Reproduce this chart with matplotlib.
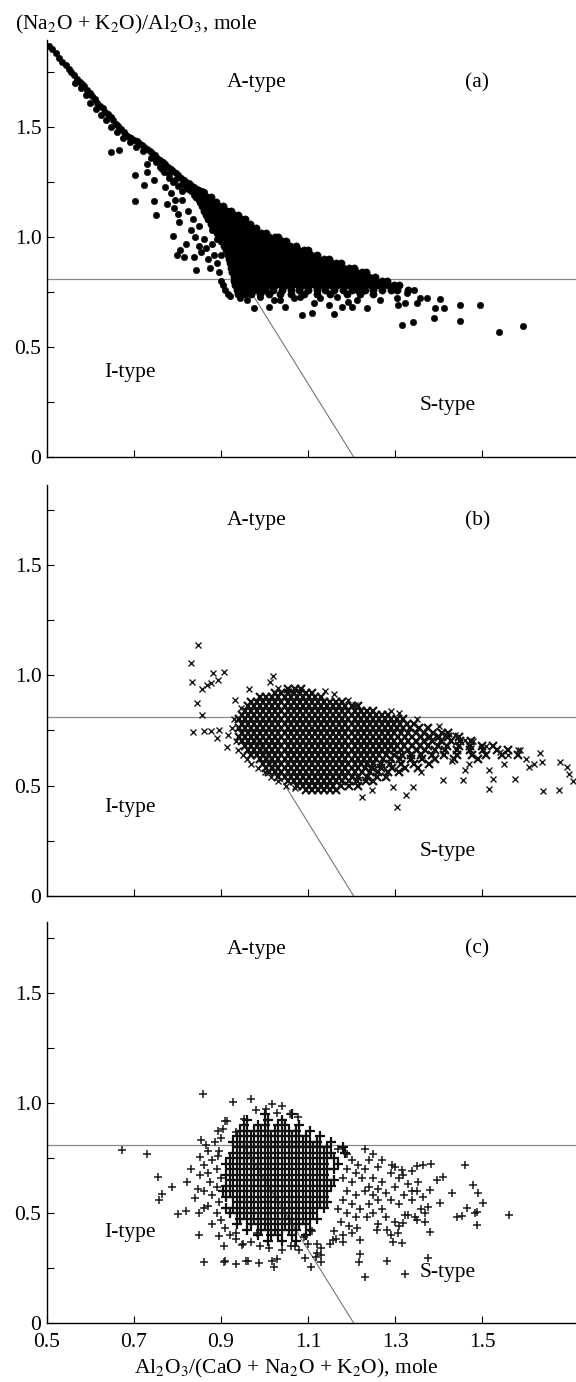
import numpy as np
import matplotlib
matplotlib.use("Agg")
from matplotlib import pyplot as plt

plt.rcParams['font.family'] = ['Liberation Serif', 'DejaVu Serif']
plt.rcParams['mathtext.fontset'] = 'stix'

# boundaries between the fields
level_y = 0.81
diag_x = [0.95, 1.205]
diag_y = [0.81, 0.0]

x_ticks = [0.5, 0.7, 0.9, 1.1, 1.3, 1.5]
y_ticks = [0, 0.25, 0.5, 0.75, 1.0, 1.25, 1.5, 1.75]
y_labels = ['0', '', '0.5', '', '1.0', '', '1.5', '']

# ---------------- panel (a), filled dots ----------------
a_band = [(0.505, 1.87), (0.512, 1.855), (0.52, 1.835), (0.528, 1.815), (0.535, 1.795), (0.543, 1.78),
          (0.55, 1.765), (0.556, 1.75), (0.563, 1.735), (0.57, 1.72), (0.575, 1.705), (0.565, 1.70),
          (0.58, 1.695), (0.586, 1.685), (0.578, 1.675), (0.592, 1.67), (0.598, 1.655), (0.59, 1.645),
          (0.604, 1.64), (0.61, 1.625), (0.6, 1.61), (0.616, 1.61), (0.622, 1.595), (0.612, 1.58),
          (0.628, 1.585), (0.634, 1.57), (0.625, 1.555), (0.64, 1.56), (0.646, 1.545), (0.636, 1.53),
          (0.652, 1.53), (0.658, 1.515), (0.647, 1.50), (0.664, 1.505), (0.67, 1.49), (0.66, 1.475),
          (0.676, 1.475), (0.682, 1.465), (0.688, 1.455), (0.675, 1.45), (0.694, 1.45), (0.7, 1.44),
          (0.69, 1.43), (0.706, 1.435), (0.712, 1.425), (0.718, 1.42), (0.705, 1.41), (0.724, 1.41),
          (0.73, 1.40), (0.72, 1.39), (0.736, 1.39), (0.742, 1.38), (0.748, 1.372), (0.738, 1.36),
          (0.754, 1.36), (0.76, 1.35), (0.75, 1.34), (0.766, 1.34), (0.772, 1.33), (0.778, 1.32),
          (0.765, 1.31), (0.784, 1.31), (0.79, 1.30), (0.78, 1.285), (0.796, 1.29), (0.802, 1.28),
          (0.808, 1.27), (0.795, 1.26), (0.814, 1.26), (0.82, 1.25), (0.81, 1.24), (0.826, 1.245),
          (0.832, 1.235), (0.838, 1.228), (0.825, 1.22), (0.844, 1.22), (0.85, 1.215), (0.856, 1.21),
          (0.84, 1.20), (0.86, 1.205)]

a_core_y = [1.20, 1.18, 1.16, 1.14, 1.12, 1.10, 1.08, 1.06, 1.04, 1.02, 1.00, 0.98,
            0.96, 0.94, 0.92, 0.90, 0.88, 0.86, 0.84, 0.82, 0.80, 0.78, 0.76, 0.74]
a_core_x = [
    [0.847, 0.859],
    [0.842, 0.855, 0.868, 0.878],
    [0.851, 0.863, 0.876, 0.889],
    [0.857, 0.869, 0.882, 0.894, 0.904],
    [0.862, 0.875, 0.888, 0.90, 0.913, 0.923],
    [0.866, 0.879, 0.892, 0.905, 0.917, 0.929, 0.939],
    [0.871, 0.884, 0.897, 0.909, 0.922, 0.935, 0.947, 0.955],
    [0.877, 0.889, 0.903, 0.915, 0.928, 0.94, 0.953, 0.966],
    [0.882, 0.895, 0.908, 0.921, 0.933, 0.946, 0.959, 0.971, 0.98],
    [0.891, 0.903, 0.916, 0.929, 0.941, 0.954, 0.967, 0.979, 0.992, 1.004],
    [0.896, 0.909, 0.921, 0.934, 0.947, 0.96, 0.972, 0.985, 0.998, 1.01, 1.023, 1.03],
    [0.901, 0.914, 0.927, 0.939, 0.952, 0.965, 0.978, 0.99, 1.003, 1.016, 1.028, 1.041, 1.05],
    [0.906, 0.919, 0.932, 0.944, 0.957, 0.97, 0.983, 0.995, 1.008, 1.021, 1.034, 1.046, 1.059, 1.072],
    [0.911, 0.924, 0.937, 0.95, 0.962, 0.975, 0.988, 1.001, 1.013, 1.026, 1.039, 1.052, 1.064, 1.077,
     1.09, 1.099],
    [0.915, 0.928, 0.941, 0.954, 0.967, 0.979, 0.992, 1.005, 1.018, 1.03, 1.043, 1.056, 1.069, 1.081,
     1.094, 1.107, 1.12],
    [0.918, 0.931, 0.944, 0.957, 0.97, 0.982, 0.995, 1.008, 1.021, 1.034, 1.046, 1.059, 1.072, 1.085,
     1.097, 1.11, 1.123, 1.136, 1.149],
    [0.921, 0.934, 0.947, 0.96, 0.973, 0.986, 0.998, 1.011, 1.024, 1.037, 1.05, 1.062, 1.075, 1.088,
     1.101, 1.114, 1.126, 1.139, 1.152, 1.165, 1.177],
    [0.923, 0.936, 0.949, 0.962, 0.975, 0.988, 1.001, 1.014, 1.027, 1.039, 1.052, 1.065, 1.078, 1.091,
     1.104, 1.116, 1.129, 1.142, 1.155, 1.168, 1.181, 1.194, 1.206],
    [0.926, 0.939, 0.952, 0.965, 0.978, 0.991, 1.004, 1.017, 1.03, 1.043, 1.056, 1.068, 1.081, 1.094,
     1.107, 1.12, 1.133, 1.146, 1.159, 1.172, 1.185, 1.198, 1.211, 1.224, 1.233],
    [0.929, 0.942, 0.955, 0.968, 0.981, 0.994, 1.007, 1.02, 1.033, 1.046, 1.059, 1.072, 1.085, 1.098,
     1.11, 1.123, 1.136, 1.149, 1.162, 1.175, 1.188, 1.201, 1.214, 1.227, 1.24, 1.253],
    [0.931, 0.944, 0.957, 0.97, 0.983, 0.996, 1.009, 1.022, 1.035, 1.048, 1.061, 1.074, 1.087, 1.1,
     1.113, 1.126, 1.139, 1.152, 1.165, 1.178, 1.191, 1.204, 1.217, 1.23, 1.243, 1.256, 1.269, 1.281],
    [0.933, 0.946, 0.959, 0.972, 0.985, 0.998, 1.011, 1.024, 1.037, 1.05, 1.063, 1.076, 1.089, 1.102,
     1.115, 1.128, 1.141, 1.154, 1.167, 1.18, 1.193, 1.206, 1.219, 1.232, 1.245, 1.258, 1.271, 1.284,
     1.297, 1.31],
    [0.936, 0.949, 0.962, 0.975, 0.988, 1.001, 1.02, 1.04, 1.06, 1.08, 1.1, 1.12, 1.14, 1.16, 1.18,
     1.2, 1.215, 1.23, 1.25, 1.27, 1.29, 1.305, 1.33],
    [0.94, 0.955, 0.97, 0.99, 1.01, 1.035, 1.06, 1.09, 1.12, 1.15, 1.19, 1.22, 1.25],
]

a_scatter = [(0.646, 1.387), (0.665, 1.395), (0.703, 1.281), (0.73, 1.297), (0.722, 1.236),
             (0.745, 1.259), (0.703, 1.163), (0.747, 1.163), (0.751, 1.10), (0.768, 1.297),
             (0.772, 1.228), (0.73, 1.33), (0.76, 1.32), (0.78, 1.27), (0.79, 1.25), (0.8, 1.23),
             (0.81, 1.21), (0.785, 1.2), (0.795, 1.17), (0.775, 1.15),
             (0.79, 1.006), (0.793, 1.13), (0.8, 1.105), (0.803, 1.07), (0.799, 0.918), (0.814, 0.91),
             (0.805, 0.94), (0.837, 0.91), (0.843, 0.85), (0.82, 0.97), (0.83, 1.03), (0.81, 1.168),
             (0.825, 1.12), (0.835, 1.08), (0.84, 1.0), (0.85, 0.96), (0.855, 0.93), (0.85, 1.05),
             (0.86, 0.99), (0.865, 0.95), (0.87, 0.9), (0.875, 0.86), (0.88, 0.97), (0.885, 0.92),
             (0.89, 0.88), (0.895, 0.84), (0.9, 0.80), (0.905, 0.78), (0.91, 0.76), (0.915, 0.74),
             (0.92, 0.73), (0.9, 0.92), (0.89, 0.99), (0.88, 1.03), (0.87, 1.09), (0.86, 1.13),
             (0.85, 1.17), (0.838, 1.19), (0.83, 1.21), (0.82, 1.225),
             (0.975, 0.675), (1.01, 0.683), (1.048, 0.683), (1.086, 0.645), (1.109, 0.653),
             (1.159, 0.65), (1.113, 0.698), (1.148, 0.69), (1.178, 0.683), (1.201, 0.683),
             (1.213, 0.713), (1.236, 0.675), (1.22, 0.759), (1.266, 0.713), (1.305, 0.721),
             (1.316, 0.60), (1.341, 0.615), (1.389, 0.633), (1.45, 0.618), (1.45, 0.693),
             (1.495, 0.693), (1.538, 0.569), (1.594, 0.595), (1.404, 0.716), (1.412, 0.675),
             (1.393, 0.675), (1.374, 0.721), (1.358, 0.721), (1.343, 0.759), (1.328, 0.744),
             (1.324, 0.698), (1.308, 0.69), (1.35, 0.698), (1.036, 0.713), (1.067, 0.721),
             (0.944, 0.721), (0.96, 0.713), (0.99, 0.728), (1.021, 0.713), (1.082, 0.728),
             (1.128, 0.721), (1.167, 0.728), (1.193, 0.706)]

# ---------------- panel (b), crosses ----------------
b_core_y = [0.94, 0.92, 0.90, 0.88, 0.86, 0.84, 0.82, 0.80, 0.78, 0.76, 0.74, 0.72,
            0.70, 0.68, 0.66, 0.64, 0.62, 0.60, 0.58, 0.56, 0.54, 0.52, 0.50, 0.48]
b_core_x = [
    [1.055, 1.07, 1.085],
    [1.025, 1.039, 1.053, 1.067, 1.081, 1.095, 1.109],
    [0.99, 1.004, 1.018, 1.032, 1.046, 1.06, 1.074, 1.088, 1.102, 1.116, 1.13],
    [0.969, 0.983, 0.997, 1.011, 1.025, 1.039, 1.053, 1.067, 1.081, 1.095, 1.109, 1.123, 1.137, 1.151,
     1.165, 1.179],
    [0.962, 0.976, 0.99, 1.004, 1.018, 1.032, 1.046, 1.06, 1.074, 1.088, 1.102, 1.116, 1.13, 1.144,
     1.158, 1.172, 1.186, 1.2, 1.214],
    [0.955, 0.969, 0.983, 0.997, 1.011, 1.025, 1.039, 1.053, 1.067, 1.081, 1.095, 1.109, 1.123, 1.137,
     1.151, 1.165, 1.179, 1.193, 1.207, 1.221, 1.235, 1.249],
    [0.948, 0.962, 0.976, 0.99, 1.004, 1.018, 1.032, 1.046, 1.06, 1.074, 1.088, 1.102, 1.116, 1.13,
     1.144, 1.158, 1.172, 1.186, 1.2, 1.214, 1.228, 1.242, 1.256, 1.27, 1.284],
    [0.941, 0.955, 0.969, 0.983, 0.997, 1.011, 1.025, 1.039, 1.053, 1.067, 1.081, 1.095, 1.109, 1.123,
     1.137, 1.151, 1.165, 1.179, 1.193, 1.207, 1.221, 1.235, 1.249, 1.263, 1.277, 1.291, 1.305, 1.318],
    [0.948, 0.962, 0.976, 0.99, 1.004, 1.018, 1.032, 1.046, 1.06, 1.074, 1.088, 1.102, 1.116, 1.13,
     1.144, 1.158, 1.172, 1.186, 1.2, 1.214, 1.228, 1.242, 1.256, 1.27, 1.284, 1.298, 1.312, 1.327,
     1.344],
    [0.941, 0.955, 0.969, 0.983, 0.997, 1.011, 1.025, 1.039, 1.053, 1.067, 1.081, 1.095, 1.109, 1.123,
     1.137, 1.151, 1.165, 1.179, 1.193, 1.207, 1.221, 1.235, 1.249, 1.263, 1.277, 1.291, 1.305, 1.319,
     1.335, 1.355, 1.377],
    [0.948, 0.962, 0.976, 0.99, 1.004, 1.018, 1.032, 1.046, 1.06, 1.074, 1.088, 1.102, 1.116, 1.13,
     1.144, 1.158, 1.172, 1.186, 1.2, 1.214, 1.228, 1.242, 1.256, 1.27, 1.284, 1.298, 1.313, 1.33,
     1.348, 1.367, 1.388, 1.407, 1.422],
    [0.941, 0.955, 0.969, 0.983, 0.997, 1.011, 1.025, 1.039, 1.053, 1.067, 1.081, 1.095, 1.109, 1.123,
     1.137, 1.151, 1.165, 1.179, 1.193, 1.207, 1.221, 1.235, 1.249, 1.263, 1.277, 1.291, 1.306, 1.322,
     1.34, 1.36, 1.38, 1.40, 1.422, 1.447],
    [0.948, 0.962, 0.976, 0.99, 1.004, 1.018, 1.032, 1.046, 1.06, 1.074, 1.088, 1.102, 1.116, 1.13,
     1.144, 1.158, 1.172, 1.186, 1.2, 1.214, 1.228, 1.242, 1.256, 1.27, 1.284, 1.298, 1.313, 1.33,
     1.348, 1.366, 1.386, 1.406, 1.428, 1.45, 1.474],
    [0.955, 0.969, 0.983, 0.997, 1.011, 1.025, 1.039, 1.053, 1.067, 1.081, 1.095, 1.109, 1.123, 1.137,
     1.151, 1.165, 1.179, 1.193, 1.207, 1.221, 1.235, 1.249, 1.263, 1.277, 1.291, 1.305, 1.32, 1.338,
     1.357, 1.377, 1.398, 1.42, 1.446, 1.472, 1.50, 1.525],
    [0.962, 0.976, 0.99, 1.004, 1.018, 1.032, 1.046, 1.06, 1.074, 1.088, 1.102, 1.116, 1.13, 1.144,
     1.158, 1.172, 1.186, 1.2, 1.214, 1.228, 1.242, 1.256, 1.27, 1.284, 1.298, 1.314, 1.331, 1.35,
     1.37, 1.392, 1.416, 1.443, 1.472, 1.503, 1.535, 1.56],
    [0.969, 0.983, 0.997, 1.011, 1.025, 1.039, 1.053, 1.067, 1.081, 1.095, 1.109, 1.123, 1.137, 1.151,
     1.165, 1.179, 1.193, 1.207, 1.221, 1.235, 1.249, 1.264, 1.28, 1.297, 1.316, 1.336, 1.36, 1.385,
     1.413, 1.443, 1.476, 1.51, 1.546, 1.583],
    [0.99, 1.004, 1.018, 1.032, 1.046, 1.06, 1.074, 1.088, 1.102, 1.116, 1.13, 1.144, 1.158, 1.172,
     1.186, 1.2, 1.214, 1.228, 1.242, 1.257, 1.273, 1.291, 1.312, 1.336, 1.362, 1.392, 1.435, 1.49],
    [0.997, 1.011, 1.025, 1.039, 1.053, 1.067, 1.081, 1.095, 1.109, 1.123, 1.137, 1.151, 1.165, 1.179,
     1.193, 1.207, 1.221, 1.235, 1.25, 1.268, 1.289, 1.313, 1.343, 1.378],
    [1.004, 1.018, 1.032, 1.046, 1.06, 1.074, 1.088, 1.102, 1.116, 1.13, 1.144, 1.158, 1.172, 1.186,
     1.2, 1.214, 1.23, 1.248, 1.268, 1.292, 1.322, 1.352],
    [1.011, 1.025, 1.039, 1.053, 1.067, 1.081, 1.095, 1.109, 1.123, 1.137, 1.151, 1.165, 1.179, 1.193,
     1.207, 1.223, 1.242, 1.262, 1.285, 1.31],
    [1.032, 1.046, 1.06, 1.074, 1.088, 1.102, 1.116, 1.13, 1.144, 1.158, 1.172, 1.186, 1.2, 1.216,
     1.236, 1.258, 1.28],
    [1.053, 1.067, 1.081, 1.095, 1.109, 1.123, 1.137, 1.151, 1.165, 1.179, 1.195, 1.213, 1.233, 1.25],
    [1.074, 1.088, 1.102, 1.116, 1.13, 1.144, 1.158, 1.175, 1.195, 1.215],
    [1.095, 1.109, 1.123, 1.137, 1.151, 1.165],
]

b_scatter = [(0.846, 1.137), (0.830, 1.054), (0.834, 0.968), (0.857, 0.938), (0.844, 0.873),
             (0.856, 0.82), (0.836, 0.741), (0.861, 0.749), (0.877, 0.747), (0.896, 0.75),
             (0.917, 0.729), (0.89, 0.714), (0.882, 1.009), (0.894, 0.979), (0.907, 1.016),
             (0.877, 0.963), (0.867, 0.956), (0.914, 0.676), (0.932, 0.888), (0.964, 0.939),
             (1.02, 0.997), (1.013, 0.971), (1.032, 0.941), (0.93, 0.80), (0.925, 0.76),
             (0.935, 0.70), (0.94, 0.66), (0.95, 0.64), (0.96, 0.62), (0.97, 0.60), (0.985, 0.58),
             (1.0, 0.56), (1.015, 0.54), (1.03, 0.52), (1.05, 0.50), (1.07, 0.49), (0.945, 0.85),
             (1.223, 0.45), (1.246, 0.48), (1.295, 0.492), (1.325, 0.457), (1.342, 0.495),
             (1.304, 0.401), (1.411, 0.525), (1.457, 0.525), (1.515, 0.483), (1.526, 0.528),
             (1.577, 0.528), (1.64, 0.476), (1.678, 0.48), (1.637, 0.608), (1.607, 0.586),
             (1.587, 0.661), (1.695, 0.586), (1.699, 0.553), (1.71, 0.521), (1.515, 0.571),
             (1.461, 0.571), (1.193, 0.888), (1.208, 0.865), (1.373, 0.767), (1.438, 0.73),
             (1.461, 0.707), (1.541, 0.654), (1.583, 0.661), (1.633, 0.649), (1.679, 0.608),
             (1.14, 0.93), (1.16, 0.915), (1.29, 0.84), (1.31, 0.83), (1.35, 0.80), (1.40, 0.77),
             (1.48, 0.70), (1.51, 0.68), (1.56, 0.64), (1.60, 0.62), (1.62, 0.60), (1.39, 0.62),
             (1.43, 0.61), (1.47, 0.60), (1.55, 0.60), (1.25, 0.52), (1.28, 0.54), (1.36, 0.56)]

# ---------------- panel (c), plus signs ----------------
c_core_y = [0.95, 0.925, 0.90, 0.875, 0.85, 0.825, 0.80, 0.775, 0.75, 0.725, 0.70, 0.675,
            0.65, 0.625, 0.60, 0.575, 0.55, 0.525, 0.50, 0.475, 0.45, 0.425, 0.40, 0.375]
c_core_x = [
    [1.0, 1.064],
    [0.96, 1.008, 1.04],
    [0.952, 0.984, 1.0, 1.032, 1.048, 1.08],
    [0.944, 0.96, 0.976, 0.992, 1.008, 1.024, 1.04, 1.056, 1.072, 1.104],
    [0.936, 0.952, 0.968, 0.984, 1.0, 1.016, 1.032, 1.048, 1.064, 1.08, 1.096, 1.128],
    [0.928, 0.944, 0.96, 0.976, 0.992, 1.008, 1.024, 1.04, 1.056, 1.072, 1.088, 1.104, 1.12, 1.152],
    [0.936, 0.952, 0.968, 0.984, 1.0, 1.016, 1.032, 1.048, 1.064, 1.08, 1.096, 1.112, 1.128,
     1.144, 1.18],
    [0.928, 0.944, 0.96, 0.976, 0.992, 1.008, 1.024, 1.04, 1.056, 1.072, 1.088, 1.104, 1.12, 1.136,
     1.152, 1.184],
    [0.92, 0.936, 0.952, 0.968, 0.984, 1.0, 1.016, 1.032, 1.048, 1.064, 1.08, 1.096, 1.112, 1.128,
     1.144, 1.16],
    [0.912, 0.928, 0.944, 0.96, 0.976, 0.992, 1.008, 1.024, 1.04, 1.056, 1.072, 1.088, 1.104, 1.12,
     1.136, 1.168],
    [0.92, 0.936, 0.952, 0.968, 0.984, 1.0, 1.016, 1.032, 1.048, 1.064, 1.08, 1.096, 1.112,
     1.128, 1.144, 1.16],
    [0.912, 0.928, 0.944, 0.96, 0.976, 0.992, 1.008, 1.024, 1.04, 1.056, 1.072, 1.088, 1.104, 1.12,
     1.136],
    [0.92, 0.936, 0.952, 0.968, 0.984, 1.0, 1.016, 1.032, 1.048, 1.064, 1.08, 1.096, 1.112,
     1.128, 1.144, 1.16],
    [0.912, 0.928, 0.944, 0.96, 0.976, 0.992, 1.008, 1.024, 1.04, 1.056, 1.072, 1.088, 1.104, 1.12,
     1.136, 1.152],
    [0.904, 0.92, 0.936, 0.952, 0.968, 0.984, 1.0, 1.016, 1.032, 1.048, 1.064, 1.08, 1.096, 1.112,
     1.128, 1.144],
    [0.912, 0.928, 0.944, 0.96, 0.976, 0.992, 1.008, 1.024, 1.04, 1.056, 1.072, 1.088, 1.104, 1.12,
     1.136],
    [0.936, 0.952, 0.968, 0.984, 1.0, 1.016, 1.032, 1.048, 1.064, 1.08, 1.096, 1.112, 1.128, 1.144],
    [0.912, 0.928, 0.944, 0.96, 0.976, 0.992, 1.008, 1.024, 1.04, 1.056, 1.072, 1.088, 1.104, 1.12, 1.136],
    [0.92, 0.936, 0.952, 0.968, 0.984, 1.0, 1.016, 1.032, 1.048, 1.064, 1.08, 1.096, 1.112],
    [0.944, 0.96, 0.976, 0.992, 1.008, 1.024, 1.04, 1.056, 1.072, 1.088, 1.104, 1.12],
    [0.936, 0.968, 0.984, 1.0, 1.016, 1.032, 1.048, 1.064, 1.08, 1.096],
    [0.96, 0.992, 1.008, 1.024, 1.04, 1.056, 1.072, 1.104],
    [0.984, 1.016, 1.032, 1.064, 1.096],
    [1.008, 1.04, 1.072],
]

c_scatter = [(0.859, 1.039), (0.928, 1.006), (0.969, 1.018), (1.017, 0.995), (1.041, 0.986),
             (0.98, 0.968), (1.003, 0.971), (1.028, 0.953), (1.059, 0.948), (1.078, 0.938),
             (0.913, 0.918), (0.953, 0.927), (0.894, 0.873), (0.934, 0.87), (0.854, 0.832),
             (0.865, 0.809), (0.886, 0.824), (0.673, 0.786), (0.731, 0.768), (0.852, 0.753),
             (0.892, 0.76), (0.831, 0.70), (0.756, 0.662), (0.852, 0.673), (0.821, 0.642),
             (0.787, 0.617), (0.764, 0.586), (0.758, 0.559), (0.80, 0.495), (0.819, 0.511),
             (0.862, 0.521), (0.848, 0.609), (0.85, 0.40), (0.896, 0.397), (0.935, 0.408),
             (0.982, 0.408), (0.949, 0.355), (0.908, 0.279), (0.961, 0.283), (0.987, 0.274),
             (1.017, 0.283), (1.106, 0.253), (1.093, 0.297), (1.119, 0.301), (1.218, 0.276),
             (1.22, 0.314), (1.377, 0.294), (1.322, 0.223), (1.461, 0.718), (1.382, 0.721),
             (1.35, 0.715), (1.315, 0.695), (1.48, 0.627), (1.503, 0.544), (1.484, 0.499),
             (1.465, 0.524), (1.442, 0.483), (1.411, 0.665), (1.396, 0.65), (1.43, 0.589),
             (1.365, 0.574), (1.377, 0.529), (1.38, 0.415), (1.369, 0.46), (1.323, 0.491),
             (1.319, 0.453), (1.308, 0.408), (1.296, 0.37), (1.315, 0.362), (1.281, 0.423),
             (1.258, 0.423), (1.235, 0.483), (1.212, 0.43), (1.22, 0.377), (1.181, 0.37),
             (1.158, 0.377), (1.561, 0.491), (1.49, 0.591), (1.488, 0.505), (1.489, 0.445),
             (1.454, 0.486), (1.365, 0.718), (1.293, 0.718), (1.353, 0.641), (1.38, 0.605),
             (1.403, 0.545), (1.346, 0.482), (1.37, 0.50), (1.319, 0.673), (1.34, 0.60),
             (0.861, 0.277), (0.909, 0.28), (0.934, 0.27), (0.958, 0.28), (1.029, 0.291),
             (1.021, 0.253), (1.13, 0.277), (1.13, 0.31), (1.282, 0.283), (1.232, 0.208),
             (0.906, 0.35), (1.07, 0.35), (1.12, 0.36),
             (1.17, 0.79), (1.19, 0.77), (1.2, 0.74), (1.215, 0.72), (1.19, 0.70), (1.21, 0.68),
             (1.23, 0.70), (1.18, 0.66), (1.2, 0.64), (1.225, 0.66), (1.24, 0.62), (1.19, 0.60),
             (1.21, 0.58), (1.23, 0.60), (1.25, 0.58), (1.18, 0.56), (1.2, 0.54), (1.22, 0.52),
             (1.24, 0.54), (1.26, 0.56), (1.17, 0.52), (1.19, 0.50), (1.21, 0.48), (1.175, 0.46),
             (1.195, 0.44), (1.16, 0.42), (1.18, 0.40), (1.165, 0.38), (1.2, 0.41), (1.25, 0.66),
             (1.27, 0.64), (1.26, 0.61), (1.28, 0.59), (1.3, 0.62), (1.29, 0.56), (1.31, 0.54),
             (1.27, 0.52), (1.25, 0.50), (1.28, 0.48), (1.3, 0.46), (1.26, 0.45), (1.32, 0.58),
             (1.34, 0.56), (1.33, 0.63), (1.35, 0.60), (1.36, 0.52), (1.33, 0.49), (1.35, 0.47),
             (1.31, 0.44), (1.29, 0.40), (1.27, 0.74), (1.25, 0.77), (1.24, 0.74), (1.23, 0.79),
             (1.26, 0.71), (1.29, 0.68), (1.31, 0.66), (1.30, 0.71), (1.34, 0.69), (1.15, 0.36),
             (1.13, 0.34), (1.12, 0.32),
             (0.86, 0.72), (0.87, 0.68), (0.88, 0.74), (0.89, 0.70), (0.875, 0.64), (0.89, 0.62),
             (0.88, 0.58), (0.895, 0.55), (0.87, 0.53), (0.89, 0.50), (0.90, 0.47), (0.88, 0.45),
             (0.90, 0.66), (0.895, 0.78), (0.90, 0.84), (0.905, 0.88), (0.91, 0.92), (0.87, 0.78),
             (0.86, 0.60), (0.84, 0.57), (0.85, 0.50), (0.91, 0.43), (0.92, 0.40), (0.935, 0.38),
             (0.95, 0.36), (0.97, 0.37), (0.99, 0.35), (1.01, 0.34), (1.04, 0.33), (1.06, 0.35),
             (1.08, 0.33), (1.10, 0.36), (1.09, 0.39), (1.11, 0.42)]


def rows_to_xy(core_y, core_x):
    xs, ys = [], []
    for y, row in zip(core_y, core_x):
        xs += row
        ys += [y] * len(row)
    return np.array(xs), np.array(ys)


W, H = 576, 1382
fig = plt.figure(figsize=(W / 100, H / 100), dpi=100)

# (top px, bottom px, ymax, tag)
panels = [(40, 457, 1.895, '(a)'), (485, 896, 1.862, '(b)'), (922, 1323, 1.823, '(c)')]
x0_px = 47
axes = []
for top, bot, ymax, tag in panels:
    ax = fig.add_axes([x0_px / W, 1 - bot / H, (W - x0_px) / W, (bot - top) / H])
    ax.set_xlim(0.5, 0.5 + (W - x0_px) / 435)
    ax.set_ylim(0, ymax)
    for s in ['top', 'right']:
        ax.spines[s].set_visible(False)
    for s in ['left', 'bottom']:
        ax.spines[s].set_linewidth(1.0)
    ax.set_xticks(x_ticks)
    ax.set_yticks(y_ticks)
    ax.set_yticklabels(y_labels)
    ax.tick_params(direction='in', length=5, width=0.8, labelsize=15.5, pad=4)
    ax.tick_params(axis='x', pad=7)
    ax.axhline(level_y, color='#888888', lw=0.9, zorder=1)
    ax.plot(diag_x, diag_y, color='#777777', lw=0.8, zorder=1)
    ax.text(0.983, 1.70, 'A-type', fontsize=15.5, ha='center', va='center')
    ax.text(1.489, 1.70, tag, fontsize=15.5, ha='center', va='center')
    axes.append(ax)

ax_a, ax_b, ax_c = axes
ax_a.set_xticklabels([])
ax_b.set_xticklabels([])

ax_a.text(0.69, 0.386, 'I-type', fontsize=15.5, ha='center', va='center')
ax_a.text(1.422, 0.236, 'S-type', fontsize=15.5, ha='center', va='center')
ax_b.text(0.69, 0.40, 'I-type', fontsize=15.5, ha='center', va='center')
ax_b.text(1.422, 0.20, 'S-type', fontsize=15.5, ha='center', va='center')
ax_c.text(0.69, 0.41, 'I-type', fontsize=15.5, ha='center', va='center')
ax_c.text(1.422, 0.23, 'S-type', fontsize=15.5, ha='center', va='center')

# panel (a)
band = np.array(a_band)
sc_a = np.array(a_scatter)
xa, ya = rows_to_xy(a_core_y, a_core_x)
ax_a.plot(band[:, 0], band[:, 1], 'o', color='black', ms=4.6, mec='black', mew=0.4, zorder=3)
ax_a.plot(sc_a[:, 0], sc_a[:, 1], 'o', color='black', ms=4.6, mec='black', mew=0.4, zorder=3)
ax_a.plot(xa, ya, 'o', color='black', ms=5.2, mec='black', mew=0.4, zorder=3)

# panel (b): the packed core drawn with heavier strokes
sc_b = np.array(b_scatter)
xb, yb = rows_to_xy(b_core_y, b_core_x)
ax_b.plot(xb, yb, 'x', color='#111111', ms=6.4, mew=1.6, zorder=3)
ax_b.plot(sc_b[:, 0], sc_b[:, 1], 'x', color='#1a1a1a', ms=4.8, mew=1.0, zorder=3)

# panel (c)
sc_c = np.array(c_scatter)
xc, yc = rows_to_xy(c_core_y, c_core_x)
ax_c.plot(xc, yc, '+', color='#111111', ms=7.0, mew=1.6, zorder=3)
ax_c.plot(sc_c[:, 0], sc_c[:, 1], '+', color='#1a1a1a', ms=5.4, mew=1.1, zorder=3)

fig.text(15 / W, 1 - 24 / H, r'(Na$_2$O + K$_2$O)/Al$_2$O$_3$, mole', fontsize=15.5,
         ha='left', va='center')
ax_c.set_xlabel(r'Al$_2$O$_3$/(CaO + Na$_2$O + K$_2$O), mole', fontsize=15.5, labelpad=2)
ax_c.xaxis.set_label_coords((286 - x0_px) / (W - x0_px), -0.085)

fig.savefig('out.png', dpi=100)
